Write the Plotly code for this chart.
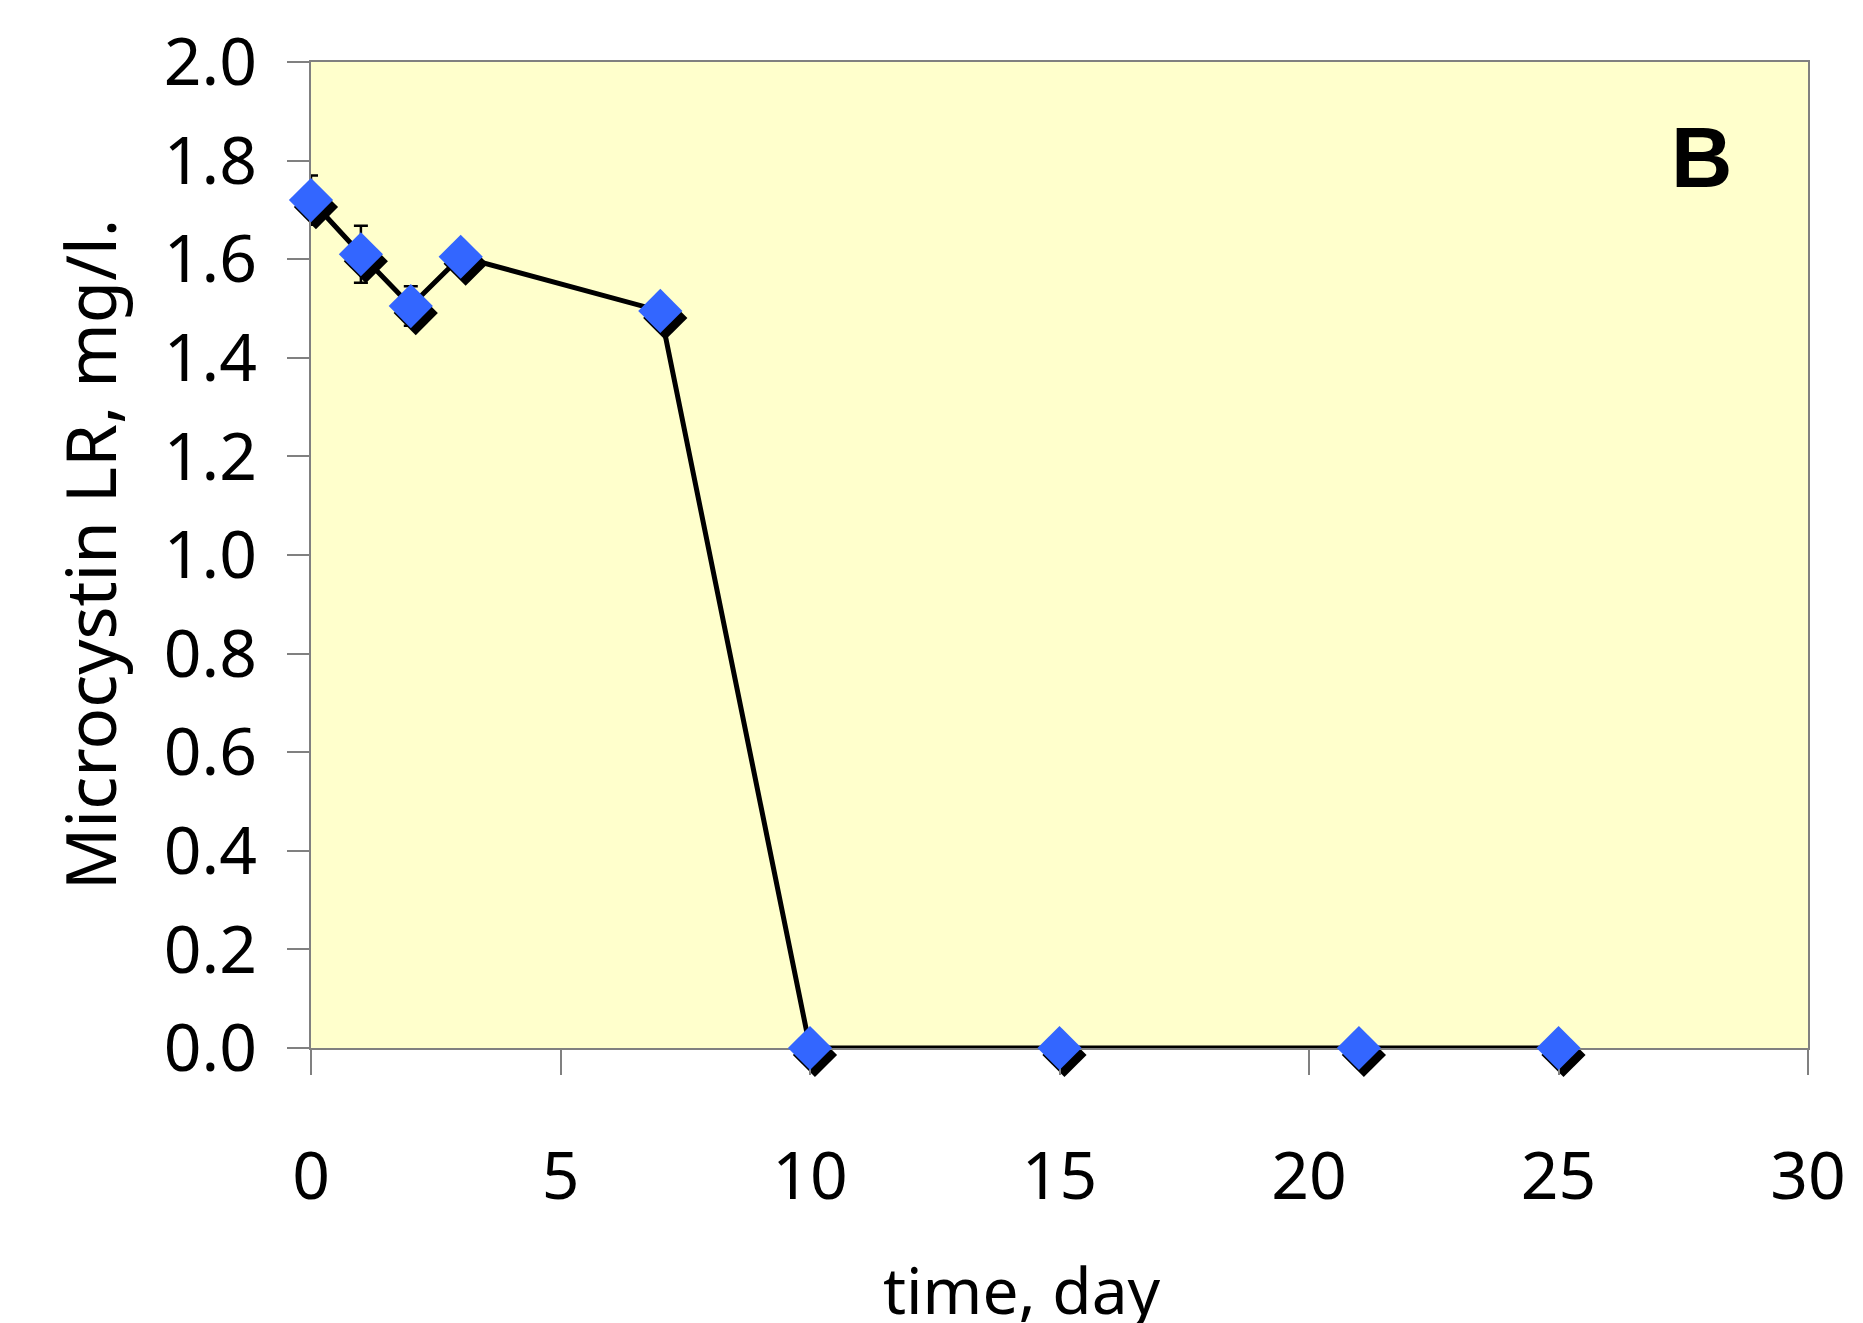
import plotly.graph_objects as go

# ---- data ----
days = [0, 1, 2, 3, 7, 10, 15, 21, 25]
microcystin = [1.72, 1.61, 1.505, 1.605, 1.495, 0, 0, 0, 0]
error = [0.05, 0.058, 0.04, 0, 0, 0, 0, 0, 0]
x_tick_vals = [0, 5, 10, 15, 20, 25, 30]
y_tick_vals = [0.0, 0.2, 0.4, 0.6, 0.8, 1.0, 1.2, 1.4, 1.6, 1.8, 2.0]
x_title = "time, day"
y_title = "Microcystin LR, mg/l."
panel_label = "B"

# ---- layout geometry (pixels) ----
W, H = 1863, 1323
PLOT_L, PLOT_R, PLOT_T, PLOT_B = 311, 1823, 62, 1048   # main plot box
sdx, sdy = 5, 7                                         # shadow offset (right, down)
ML, MT = PLOT_L, PLOT_T
MR = W - (PLOT_R + sdx)
MB = H - (PLOT_B + sdy)
PW = W - ML - MR
PH = H - MT - MB
ex = sdx / PW
ey = sdy / PH
x_range = [0, 30]
y_range = [0, 2]


def px_x(px):
    return (px - ML) / PW


def px_y(py):
    return (H - MB - py) / PH


FONT = "Noto Sans"
TICK_SIZE = 66
MARKER_SIZE = 34

fig = go.Figure()

# marker shadow: lowest subplot, shifted right/down by a few pixels
fig.add_trace(go.Scatter(
    x=days, y=microcystin, mode="markers",
    marker=dict(symbol="diamond", size=MARKER_SIZE, color="black",
                line=dict(width=0)),
    xaxis="x", yaxis="y", cliponaxis=False, showlegend=False,
    hoverinfo="skip",
))

# main series: line, error bars and blue diamonds on the visible axes
fig.add_trace(go.Scatter(
    x=days, y=microcystin, mode="lines+markers",
    line=dict(color="black", width=5),
    marker=dict(symbol="diamond", size=MARKER_SIZE, color="#3366FF",
                line=dict(width=0)),
    error_y=dict(type="data", array=error, visible=True,
                 color="black", thickness=2.5, width=7),
    xaxis="x2", yaxis="y2", cliponaxis=False, showlegend=False,
))

axis_common = dict(showgrid=False, zeroline=False, showline=True,
                   linecolor="#808080", linewidth=1.5, mirror=True,
                   ticks="outside", tickcolor="#808080", tickwidth=1.5,
                   layer="below traces", ticklabeloverflow="allow",
                   tickfont=dict(family=FONT, size=TICK_SIZE, color="black"))

fig.update_layout(
    width=W, height=H,
    margin=dict(l=ML, r=MR, t=MT, b=MB, pad=0),
    paper_bgcolor="white", plot_bgcolor="rgba(0,0,0,0)",
    showlegend=False,
    xaxis=dict(range=x_range, domain=[ex, 1], anchor="y", visible=False),
    yaxis=dict(range=y_range, domain=[0, 1 - ey], anchor="x", visible=False),
    xaxis2=dict(range=x_range, domain=[0, 1 - ex], anchor="y2",
                tickvals=x_tick_vals, ticklen=25,
                ticklabelstandoff=45, **axis_common),
    yaxis2=dict(range=y_range, domain=[ey, 1], anchor="x2",
                tickvals=y_tick_vals, tickformat=".1f",
                ticklen=22, ticklabelstandoff=17, **axis_common),
    shapes=[dict(type="rect", xref="paper", yref="paper",
                 x0=0, x1=1 - ex, y0=ey, y1=1, layer="below",
                 fillcolor="#FFFFCC", line=dict(width=0))],
    annotations=[
        dict(text=x_title, xref="paper", yref="paper",
             x=px_x(1029), y=px_y(1289), xanchor="center", yanchor="middle",
             showarrow=False, font=dict(family=FONT, size=64, color="black")),
        dict(text=y_title, xref="paper", yref="paper", textangle=-90,
             x=px_x(87), y=px_y(555), xanchor="center", yanchor="middle",
             showarrow=False, font=dict(family=FONT, size=69, color="black")),
        dict(text="<b>" + panel_label + "</b>", xref="paper", yref="paper",
             x=px_x(1715), y=px_y(157), xanchor="center", yanchor="middle",
             showarrow=False,
             font=dict(family="Liberation Sans", size=85, color="black")),
    ],
)

fig.write_html("out.html", config={"displayModeBar": False},
               post_script="document.body.style.margin='0';")
